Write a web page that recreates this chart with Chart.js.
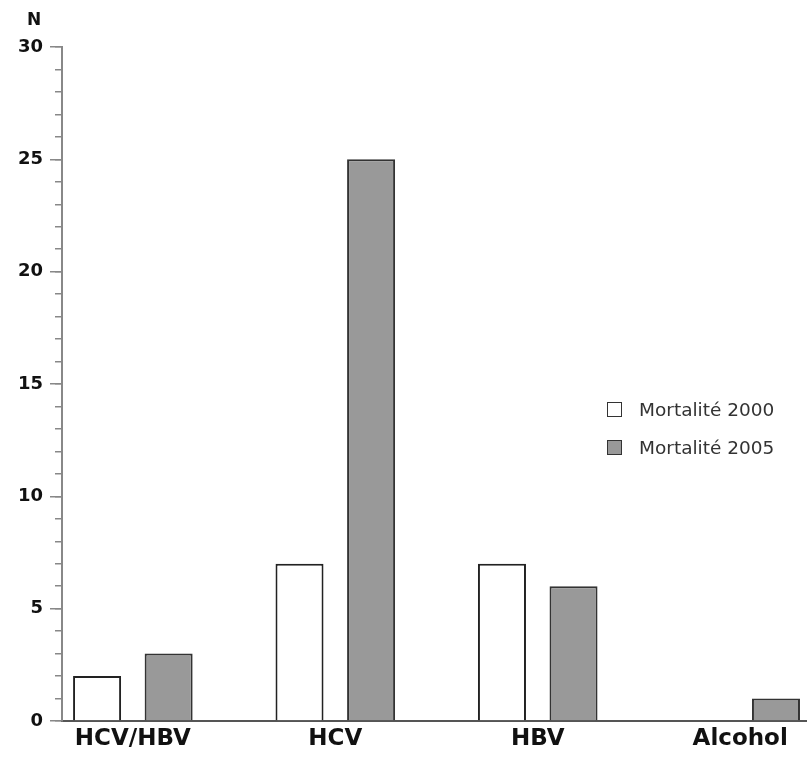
<!DOCTYPE html>
<html>
<head>
<meta charset="utf-8">
<title>Mortalité</title>
<script src="https://cdn.jsdelivr.net/npm/chart.js@4.4.1/dist/chart.umd.min.js"></script>
<style>
  body { margin: 0; background: #fff; }
  #wrap { position: relative; width: 807px; height: 758px; }
  #legend { position: absolute; left: 607px; top: 390px; font: 18.5px 'DejaVu Sans', sans-serif; color: #333; }
  #legend .item { display: flex; align-items: center; height: 38px; }
  #legend .box { width: 13px; height: 13px; border: 1.5px solid #333; margin-right: 17px; }
</style>
</head>
<body>
<div id="wrap">
  <canvas id="myChart"></canvas>
  <div id="legend"></div>
</div>
<script>
const categories = ['HCV/HBV', 'HCV', 'HBV', 'Alcohol'];
const mort2000 = [2, 7, 7, 0];
const mort2005 = [3, 25, 6, 1];
const yTicks = [0, 5, 10, 15, 20, 25, 30];
const yMinorTicks = [0, 1, 2, 3, 4, 5, 6, 7, 8, 9, 10, 11, 12, 13, 14, 15,
  16, 17, 18, 19, 20, 21, 22, 23, 24, 25, 26, 27, 28, 29, 30];

const toPoints = values => values.map((v, i) => ({ x: i, y: v }));

// the "N" over the y axis
const nLabel = {
  id: 'nLabel',
  afterDraw(chart) {
    const ctx = chart.ctx;
    const y = chart.scales.y;
    ctx.save();
    ctx.font = "bold 17px 'DejaVu Sans'";
    ctx.fillStyle = '#111';
    ctx.textAlign = 'center';
    ctx.textBaseline = 'middle';
    ctx.fillText('N', y.right - 28, y.top - 26);
    ctx.restore();
  }
};

const ctx = document.getElementById('myChart');
const chart = new Chart(ctx, {
  type: 'bar',
  data: {
    datasets: [{
      label: 'Mortalité 2000',
      data: toPoints(mort2000),
      backgroundColor: '#ffffff',
      borderColor: '#222222',
      borderWidth: 2,
      yAxisID: 'y'
    },
    {
      label: 'Mortalité 2005',
      data: toPoints(mort2005),
      backgroundColor: '#999999',
      borderColor: '#333333',
      borderWidth: 2,
      yAxisID: 'y'
    }]
  },
  plugins: [nLabel],
  options: {
    responsive: true,
    maintainAspectRatio: false,
    animation: false,
    categoryPercentage: 0.707,
    barPercentage: 0.671,
    layout: { padding: { top: 47, right: 0, left: 0, bottom: 0 } },
    plugins: {
      legend: { display: false },
      tooltip: { enabled: false }
    },
    scales: {
      x: {
        type: 'linear',
        offset: false,
        min: -0.35,
        max: 3.33,
        afterBuildTicks: s => { s.ticks = categories.map((c, i) => ({ value: i })); },
        ticks: {
          callback: v => categories[v],
          font: { family: 'DejaVu Sans', size: 23, weight: 'bold' },
          color: '#111',
          padding: 4,
          maxRotation: 0,
          autoSkip: false
        },
        grid: { display: false, drawTicks: false, offset: false },
        border: { color: '#555', width: 2 },
        afterFit: s => { s.height = 37; }
      },
      y: {
        position: 'left',
        weight: 1,
        min: 0,
        max: 30,
        afterBuildTicks: s => { s.ticks = yTicks.map(v => ({ value: v })); },
        ticks: {
          font: { family: 'DejaVu Sans', size: 18, weight: 'bold' },
          color: '#111',
          padding: 7
        },
        grid: { drawOnChartArea: false, tickLength: 12, color: '#888', lineWidth: 1.5 },
        border: { color: '#888', width: 2 },
        afterFit: s => { s.width = 62; }
      },
      yMinor: {
        position: 'left',
        weight: 0,
        min: 0,
        max: 30,
        afterBuildTicks: s => { s.ticks = yMinorTicks.map(v => ({ value: v })); },
        ticks: { display: false },
        grid: { drawOnChartArea: false, tickLength: 7, color: '#888', lineWidth: 1.5 },
        border: { display: false },
        afterFit: s => { s.width = 0; }
      }
    }
  }
});

// legend built from the datasets
const legend = document.getElementById('legend');
for (let ds of chart.data.datasets) {
  const item = document.createElement('div');
  item.className = 'item';
  const box = document.createElement('span');
  box.className = 'box';
  box.style.background = ds.backgroundColor;
  const text = document.createElement('span');
  text.innerText = ds.label;
  item.appendChild(box);
  item.appendChild(text);
  legend.appendChild(item);
}
</script>
</body>
</html>
